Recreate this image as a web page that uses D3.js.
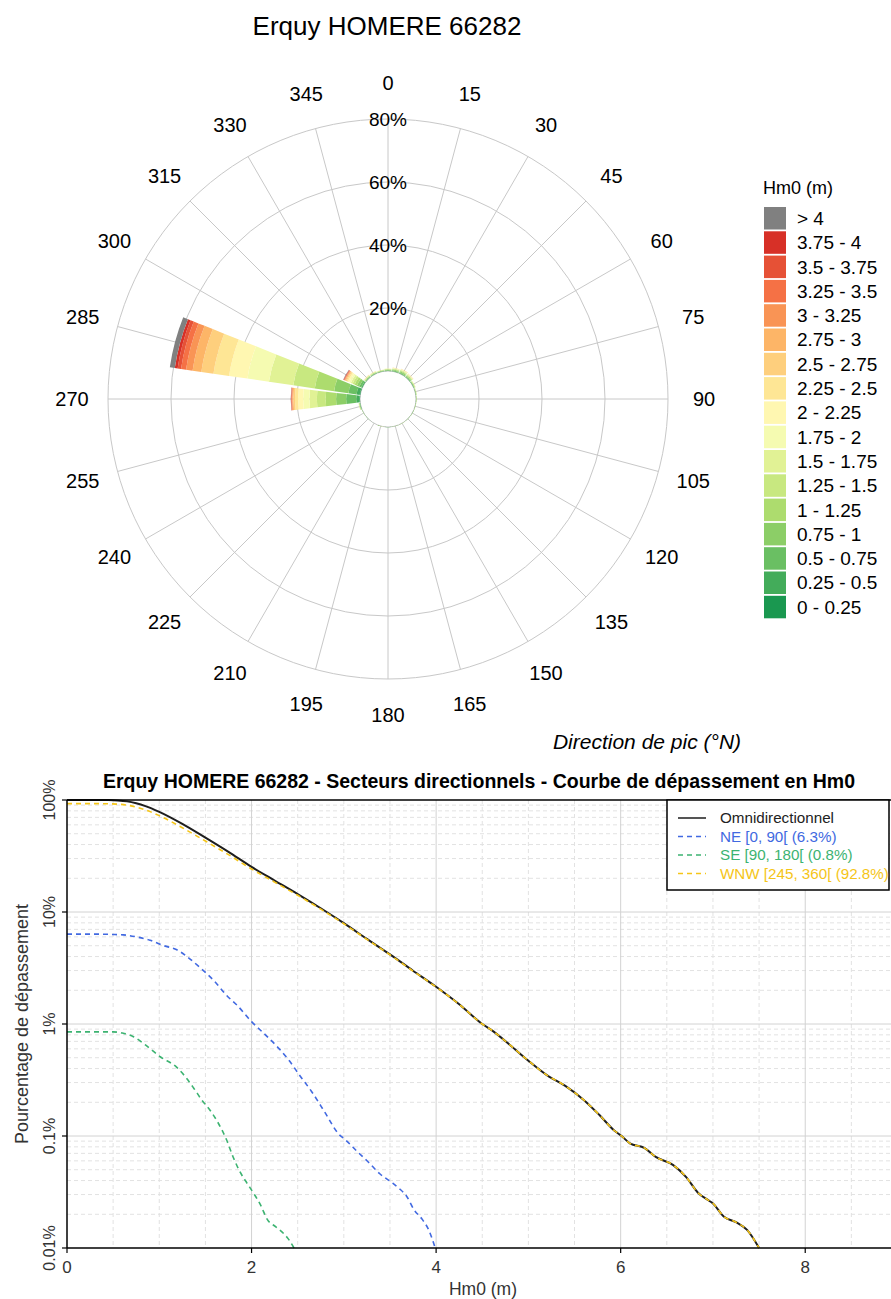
<!DOCTYPE html>
<html>
<head>
<meta charset="utf-8">
<script src="https://cdn.jsdelivr.net/npm/d3@7"></script>
<style>
  body { margin: 0; background: #fff; }
  svg { display: block; }
  text { font-family: "Liberation Sans", Arial, Helvetica, sans-serif; fill: #000; }
</style>
</head>
<body>
<svg id="chart" width="891" height="1299"></svg>
<script>
// ---------- Wave rose data (% of time per 15° sector and Hm0 class) ----------
const roseTitle = "Erquy HOMERE 66282";
const directions = [0, 15, 30, 45, 60, 75, 90, 105, 120, 135, 150, 165,
                    180, 195, 210, 225, 240, 255, 270, 285, 300, 315, 330, 345];
const hsBinLabels = ["0 - 0.25", "0.25 - 0.5", "0.5 - 0.75", "0.75 - 1", "1 - 1.25",
                     "1.25 - 1.5", "1.5 - 1.75", "1.75 - 2", "2 - 2.25", "2.25 - 2.5",
                     "2.5 - 2.75", "2.75 - 3", "3 - 3.25", "3.25 - 3.5", "3.5 - 3.75",
                     "3.75 - 4", "> 4"];
// one row per direction, columns follow hsBinLabels
const sectorFreq = [
  [0.02,0.06,0.14,0.16,0.14,0.10,0.07,0.05,0.03,0.02,0.01,0,0,0,0,0,0],          // 0
  [0.02,0.08,0.20,0.24,0.20,0.16,0.11,0.07,0.05,0.03,0.02,0.01,0.01,0,0,0,0],    // 15
  [0.02,0.10,0.24,0.30,0.27,0.22,0.15,0.10,0.07,0.05,0.03,0.02,0.01,0.01,0.01,0,0], // 30
  [0.02,0.08,0.20,0.26,0.24,0.20,0.14,0.10,0.06,0.04,0.03,0.02,0.01,0,0,0,0],    // 45
  [0.02,0.06,0.12,0.14,0.12,0.09,0.06,0.04,0.02,0.01,0.01,0.01,0,0,0,0,0],       // 60
  [0.01,0.04,0.08,0.08,0.07,0.05,0.03,0.02,0.01,0.01,0,0,0,0,0,0,0],             // 75
  [0.01,0.03,0.06,0.06,0.05,0.04,0.02,0.02,0.01,0,0,0,0,0,0,0,0],                // 90
  [0.01,0.02,0.04,0.04,0.04,0.02,0.02,0.01,0,0,0,0,0,0,0,0,0],                   // 105
  [0.01,0.02,0.03,0.03,0.03,0.02,0.01,0,0,0,0,0,0,0,0,0,0],                      // 120
  [0.01,0.01,0.02,0.02,0.02,0.01,0.01,0,0,0,0,0,0,0,0,0,0],                      // 135
  [0.01,0.01,0.02,0.02,0.02,0.01,0.01,0,0,0,0,0,0,0,0,0,0],                      // 150
  [0.01,0.01,0.02,0.02,0.02,0.01,0.01,0,0,0,0,0,0,0,0,0,0],                      // 165
  [0.01,0.01,0.02,0.02,0.01,0.01,0,0,0,0,0,0,0,0,0,0,0],                         // 180
  [0.01,0.01,0.01,0.01,0.01,0.01,0,0,0,0,0,0,0,0,0,0,0],                         // 195
  [0.01,0.01,0.01,0.01,0.01,0,0,0,0,0,0,0,0,0,0,0,0],                            // 210
  [0.01,0.01,0.01,0.01,0.01,0,0,0,0,0,0,0,0,0,0,0,0],                            // 225
  [0.01,0.02,0.02,0.02,0.01,0.01,0.01,0,0,0,0,0,0,0,0,0,0],                      // 240
  [0.02,0.06,0.12,0.12,0.10,0.07,0.05,0.03,0.02,0.01,0,0,0,0,0,0,0],             // 255
  [0.2,1.0,3.2,3.2,3.3,2.8,2.35,2.0,1.6,1.0,0.5,0.3,0.2,0.15,0.1,0.05,0.05],     // 270
  [0.2,1.0,2.6,4.6,6.2,6.9,7.8,6.9,5.9,5.0,3.9,2.8,2.1,1.6,1.1,0.9,1.6],         // 285
  [0.05,0.3,0.7,0.8,0.8,0.7,0.6,0.55,0.5,0.4,0.3,0.25,0.2,0.15,0.1,0.1,0.1],     // 300
  [0.02,0.08,0.14,0.15,0.14,0.11,0.08,0.06,0.04,0.03,0.02,0.01,0.01,0.01,0,0,0], // 315
  [0.02,0.06,0.12,0.14,0.13,0.10,0.08,0.05,0.04,0.02,0.02,0.01,0.01,0,0,0,0],    // 330
  [0.02,0.05,0.10,0.11,0.10,0.08,0.05,0.04,0.02,0.01,0.01,0.01,0,0,0,0,0]        // 345
];
const radialTicks = [20, 40, 60, 80];

// ---------- Exceedance curves: [Hm0 (m), % of time exceeded] ----------
const exceedTitle = "Erquy HOMERE 66282 - Secteurs directionnels - Courbe de dépassement en Hm0";
const omniCurve = [
  [0,100],[0.3,100],[0.45,99.8],[0.55,99.1],[0.65,97.2],[0.75,93.4],[0.85,88.2],[1.0,78.4],
  [1.25,61.2],[1.5,46.1],[1.75,34.4],[2.0,25.3],[2.25,19.1],[2.5,14.45],[2.75,10.8],[3.0,7.95],
  [3.25,5.75],[3.5,4.18],[3.75,2.99],[4.0,2.15],[4.25,1.5],[4.5,1.0],[4.62,0.86],[4.8,0.65],
  [5.0,0.47],[5.2,0.35],[5.4,0.28],[5.6,0.21],[5.77,0.154],[5.93,0.112],[6.01,0.1],[6.1,0.086],
  [6.26,0.078],[6.38,0.065],[6.57,0.055],[6.71,0.043],[6.84,0.031],[6.94,0.027],[7.0,0.025],
  [7.12,0.019],[7.25,0.017],[7.37,0.0145],[7.5,0.01]
];
const neCurve = [
  [0,6.35],[0.3,6.35],[0.5,6.3],[0.61,6.25],[0.75,6.0],[0.9,5.6],[1.05,5.0],[1.19,4.6],[1.3,4.0],
  [1.44,3.2],[1.6,2.4],[1.73,1.8],[1.85,1.45],[2.0,1.05],[2.15,0.8],[2.3,0.6],[2.4,0.48],
  [2.53,0.34],[2.65,0.25],[2.8,0.16],[2.94,0.105],[3.02,0.092],[3.15,0.072],[3.27,0.058],
  [3.39,0.046],[3.51,0.039],[3.6,0.034],[3.68,0.029],[3.76,0.022],[3.85,0.018],[3.92,0.0145],[3.99,0.01]
];
const seCurve = [
  [0,0.85],[0.3,0.85],[0.5,0.85],[0.6,0.83],[0.72,0.77],[0.85,0.65],[1.01,0.51],[1.19,0.41],
  [1.28,0.34],[1.37,0.27],[1.46,0.21],[1.55,0.17],[1.64,0.13],[1.73,0.092],[1.8,0.065],
  [1.88,0.047],[1.95,0.038],[2.02,0.031],[2.1,0.024],[2.17,0.018],[2.26,0.0155],[2.35,0.0134],
  [2.4,0.012],[2.46,0.01]
];
const wnwCurve = [
  [0,92.8],[0.3,92.8],[0.45,92.5],[0.55,91.8],[0.65,90],[0.75,86.5],[0.85,81.5],[1.0,72.5],
  [1.25,56.5],[1.5,43],[1.75,32.5],[2.0,24.2],[2.25,18.5],[2.5,14.1],[2.75,10.6],[3.0,7.85],
  [3.25,5.7],[3.5,4.15],[3.75,2.97],[4.0,2.14],[4.25,1.5],[4.5,1.0],[4.62,0.86],[4.8,0.65],
  [5.0,0.47],[5.2,0.35],[5.4,0.28],[5.6,0.21],[5.77,0.154],[5.93,0.112],[6.01,0.1],[6.1,0.086],
  [6.26,0.078],[6.38,0.065],[6.57,0.055],[6.71,0.043],[6.84,0.031],[6.94,0.027],[7.0,0.025],
  [7.12,0.019],[7.25,0.017],[7.37,0.0145],[7.5,0.01]
];
const curveLabels = ["Omnidirectionnel", "NE [0, 90[ (6.3%)", "SE [90, 180[ (0.8%)", "WNW [245, 360[ (92.8%)"];
const xTicks = [0, 2, 4, 6, 8];
const yTicks = [0.01, 0.1, 1, 10, 100];
const yTickLabels = ["0.01%", "0.1%", "1%", "10%", "100%"];

// ---------- Setup ----------
const svg = d3.select("#chart");
const deg = Math.PI / 180;

// colour ramp: green (calm) to red (rough), grey for the top class
const ramp = d3.piecewise(d3.interpolateRgb,
  ["#d73027", "#f46d43", "#fdae61", "#fee08b", "#ffffbf", "#d9ef8b", "#a6d96a", "#66bd63", "#1a9850"]);
const binColor = (i) => i === hsBinLabels.length - 1 ? "#808080" : ramp(1 - i / 15);

// ================= Wave rose =================
const cx = 388, cy = 399;
const rScale = d3.scaleLinear().domain([0, 80]).range([28, 280]);
const rose = svg.append("g").attr("transform", `translate(${cx},${cy})`);

svg.append("text").attr("x", 387).attr("y", 35).attr("text-anchor", "middle")
  .style("font-size", "26px").text(roseTitle);

// grid
rose.selectAll("line.spoke").data(directions).join("line").attr("class", "spoke")
  .attr("x1", d => rScale(0) * Math.sin(d * deg)).attr("y1", d => -rScale(0) * Math.cos(d * deg))
  .attr("x2", d => rScale(80) * Math.sin(d * deg)).attr("y2", d => -rScale(80) * Math.cos(d * deg))
  .attr("stroke", "#c8c8c8").attr("stroke-width", 1);
rose.selectAll("circle.ring").data([0].concat(radialTicks)).join("circle").attr("class", "ring")
  .attr("r", d => rScale(d)).attr("fill", "none").attr("stroke", "#c8c8c8").attr("stroke-width", 1);

// stacked sectors
const wedges = [];
directions.forEach((dir, di) => {
  let acc = 0;
  sectorFreq[di].forEach((v, bi) => {
    wedges.push({ dir, bin: bi, y0: acc, y1: acc + v });
    acc += v;
  });
});
const half = 6.75;
const arc = d3.arc()
  .innerRadius(d => rScale(d.y0)).outerRadius(d => rScale(d.y1))
  .startAngle(d => (d.dir - half) * deg).endAngle(d => (d.dir + half) * deg);
rose.selectAll("path.wedge").data(wedges.filter(d => d.y1 > d.y0)).join("path").attr("class", "wedge")
  .attr("d", arc).attr("fill", d => binColor(d.bin));

// radial labels
rose.selectAll("text.rlab").data(radialTicks).join("text").attr("class", "rlab")
  .attr("x", 0).attr("y", d => -rScale(d)).attr("dy", "0.35em").attr("text-anchor", "middle")
  .style("font-size", "19px").text(d => d + "%");

// direction labels
rose.selectAll("text.dlab").data(directions).join("text").attr("class", "dlab")
  .attr("x", d => 316 * Math.sin(d * deg)).attr("y", d => -316 * Math.cos(d * deg))
  .attr("dy", "0.35em").attr("text-anchor", "middle").style("font-size", "20px").text(d => d);

svg.append("text").attr("x", 647).attr("y", 749).attr("text-anchor", "middle")
  .style("font-size", "21px").style("font-style", "italic").text("Direction de pic (°N)");

// legend
const leg = svg.append("g");
leg.append("text").attr("x", 763).attr("y", 194).style("font-size", "18px").text("Hm0 (m)");
const legOrder = d3.range(hsBinLabels.length).reverse();
leg.selectAll("rect").data(legOrder).join("rect")
  .attr("x", 764).attr("y", (d, i) => 207 + i * 24.3).attr("width", 22).attr("height", 22.5)
  .attr("fill", d => binColor(d));
leg.selectAll("text.item").data(legOrder).join("text").attr("class", "item")
  .attr("x", 797).attr("y", (d, i) => 207 + i * 24.3 + 11.25).attr("dy", "0.35em")
  .style("font-size", "19px").text(d => hsBinLabels[d]);

// ================= Exceedance curves =================
const px0 = 67, px1 = 897.5, py0 = 800, py1 = 1248;
const x = d3.scaleLinear().domain([0, 9]).range([px0, px1]);
const y = d3.scaleLog().domain([0.01, 100]).range([py1, py0]);

const ex = svg.append("g");
svg.append("defs").append("clipPath").attr("id", "plotclip")
  .append("rect").attr("x", px0).attr("y", py0 - 2).attr("width", px1 - px0).attr("height", py1 - py0 + 4);

// minor grid
const xMinor = d3.range(0.5, 9, 0.5).filter(v => v % 2 !== 0);
const yMinor = [];
[0.01, 0.1, 1, 10].forEach(b => { for (let k = 2; k <= 9; k++) yMinor.push(b * k); });
ex.selectAll("line.xmin").data(xMinor).join("line").attr("class", "xmin")
  .attr("x1", d => x(d)).attr("x2", d => x(d)).attr("y1", py0).attr("y2", py1)
  .attr("stroke", "#e2e2e2").attr("stroke-dasharray", "4,3");
ex.selectAll("line.ymin").data(yMinor).join("line").attr("class", "ymin")
  .attr("x1", px0).attr("x2", px1).attr("y1", d => y(d)).attr("y2", d => y(d))
  .attr("stroke", "#e2e2e2").attr("stroke-dasharray", "4,3");
// major grid
ex.selectAll("line.xmaj").data(xTicks.slice(1)).join("line").attr("class", "xmaj")
  .attr("x1", d => x(d)).attr("x2", d => x(d)).attr("y1", py0).attr("y2", py1)
  .attr("stroke", "#d2d2d2");
ex.selectAll("line.ymaj").data(yTicks.slice(1, -1)).join("line").attr("class", "ymaj")
  .attr("x1", px0).attr("x2", px1).attr("y1", d => y(d)).attr("y2", d => y(d))
  .attr("stroke", "#d2d2d2");

// curves
const line = d3.line().x(d => x(d[0])).y(d => y(d[1])).curve(d3.curveMonotoneX);
const curves = [
  { data: omniCurve, color: "#1e1e1e", dash: null, width: 2 },
  { data: neCurve, color: "#4169e1", dash: "5,4", width: 1.6 },
  { data: seCurve, color: "#3cb371", dash: "5,4", width: 1.6 },
  { data: wnwCurve, color: "#f5c518", dash: "5,4", width: 1.6 }
];
const curveG = ex.append("g").attr("clip-path", "url(#plotclip)");
curveG.selectAll("path").data(curves).join("path")
  .attr("d", d => line(d.data)).attr("fill", "none")
  .attr("stroke", d => d.color).attr("stroke-width", d => d.width)
  .attr("stroke-dasharray", d => d.dash);

// frame and axes
ex.append("line").attr("x1", px0).attr("x2", px1).attr("y1", py0).attr("y2", py0)
  .attr("stroke", "#000").attr("stroke-width", 1.5);
ex.append("line").attr("x1", px0).attr("x2", px1).attr("y1", py1).attr("y2", py1)
  .attr("stroke", "#000").attr("stroke-width", 1.5);
ex.append("line").attr("x1", px0).attr("x2", px0).attr("y1", py0).attr("y2", py1)
  .attr("stroke", "#000").attr("stroke-width", 1.5);

ex.selectAll("line.ytick").data(yTicks).join("line").attr("class", "ytick")
  .attr("x1", px0 - 5).attr("x2", px0).attr("y1", d => y(d)).attr("y2", d => y(d))
  .attr("stroke", "#000").attr("stroke-width", 1.2);
ex.selectAll("line.xtick").data(xTicks).join("line").attr("class", "xtick")
  .attr("x1", d => x(d)).attr("x2", d => x(d)).attr("y1", py1).attr("y2", py1 + 5)
  .attr("stroke", "#000").attr("stroke-width", 1.2);

ex.selectAll("text.ylab").data(yTicks).join("text").attr("class", "ylab")
  .attr("transform", d => `translate(55,${y(d)}) rotate(-90)`).attr("text-anchor", "middle")
  .style("font-size", "16px").style("fill", "#333").text((d, i) => yTickLabels[i]);
ex.selectAll("text.xlab").data(xTicks).join("text").attr("class", "xlab")
  .attr("x", d => x(d)).attr("y", 1273).attr("text-anchor", "middle")
  .style("font-size", "17px").style("fill", "#333").text(d => d);

svg.append("text").attr("x", 483).attr("y", 1295).attr("text-anchor", "middle")
  .style("font-size", "17.5px").style("fill", "#333").text("Hm0 (m)");
svg.append("text").attr("transform", `translate(28,${(py0 + py1) / 2}) rotate(-90)`)
  .attr("text-anchor", "middle").style("font-size", "18px").style("fill", "#333")
  .text("Pourcentage de dépassement");
svg.append("text").attr("x", 479).attr("y", 788).attr("text-anchor", "middle")
  .style("font-size", "19.5px").style("font-weight", "bold").text(exceedTitle);

// curve legend
const cl = svg.append("g");
cl.append("rect").attr("x", 667).attr("y", py0).attr("width", 222).attr("height", 90)
  .attr("fill", "#fff").attr("stroke", "#000").attr("stroke-width", 1.5);
curves.forEach((c, i) => {
  const ly = 818 + i * 18.5;
  cl.append("line").attr("x1", 678).attr("x2", 706).attr("y1", ly).attr("y2", ly)
    .attr("stroke", i === 0 ? "#555" : c.color).attr("stroke-width", i === 0 ? 2 : 1.4)
    .attr("stroke-dasharray", c.dash);
  cl.append("text").attr("x", 720).attr("y", ly).attr("dy", "0.35em")
    .style("font-size", "15.2px").style("fill", i === 0 ? "#222" : c.color).text(curveLabels[i]);
});
</script>
</body>
</html>
